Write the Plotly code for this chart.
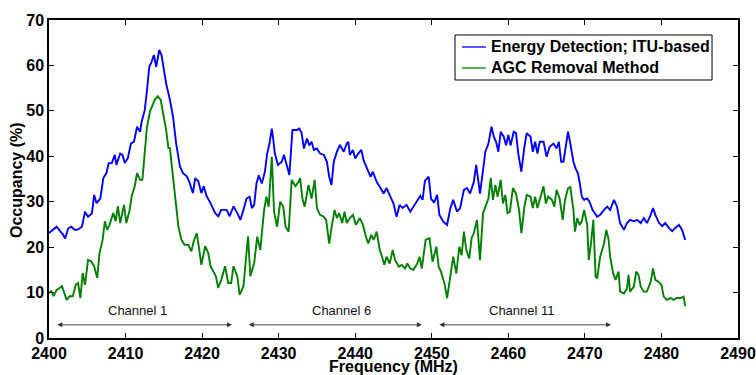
import plotly.graph_objects as go

# Energy detection (ITU-based) occupancy vs frequency
ed_freq = [
    2400.0, 2400.5, 2401.0, 2401.5, 2401.8, 2402.1, 2402.5, 2402.9, 2403.4, 2403.8,
    2404.3, 2404.7, 2405.1, 2405.6, 2405.9, 2406.2, 2406.7, 2407.1, 2407.5, 2407.8,
    2408.2, 2408.6, 2408.8, 2409.3, 2409.6, 2409.9, 2410.3, 2410.7, 2411.1, 2411.5,
    2411.9, 2412.1, 2412.5, 2412.8, 2413.1, 2413.4, 2413.7, 2414.0, 2414.4, 2414.7,
    2415.0, 2415.3, 2415.8, 2416.2, 2416.6, 2417.1, 2417.5, 2418.0, 2418.3, 2418.8,
    2419.1, 2419.5, 2419.9, 2420.2, 2420.6, 2421.1, 2421.7, 2422.1, 2422.5, 2423.2,
    2423.6, 2424.1, 2424.6, 2425.0, 2425.4, 2425.8, 2426.2, 2426.5, 2426.8, 2427.1,
    2427.4, 2427.8, 2428.2, 2428.5, 2428.8, 2429.1, 2429.3, 2429.5, 2429.9, 2430.4,
    2430.7, 2431.0, 2431.4, 2431.8, 2432.4, 2432.7, 2433.0, 2433.3, 2433.7, 2434.0,
    2434.3, 2434.6, 2435.0, 2435.4, 2435.9, 2436.3, 2436.6, 2436.9, 2437.2, 2437.6,
    2438.0, 2438.5, 2438.9, 2439.1, 2439.3, 2439.7, 2440.0, 2440.4, 2440.8, 2441.1,
    2441.5, 2442.0, 2442.3, 2442.8, 2443.3, 2443.7, 2444.1, 2444.6, 2445.0, 2445.4,
    2445.8, 2446.2, 2446.7, 2447.2, 2447.6, 2448.1, 2448.5, 2448.8, 2449.1, 2449.6,
    2449.9, 2450.3, 2450.7, 2451.0, 2451.5, 2452.0, 2452.4, 2452.8, 2453.3, 2453.7,
    2454.2, 2454.6, 2455.0, 2455.5, 2455.8, 2456.3, 2456.7, 2457.0, 2457.4, 2457.8,
    2458.1, 2458.4, 2458.7, 2459.0, 2459.4, 2459.7, 2460.0, 2460.3, 2460.7, 2461.0,
    2461.3, 2461.7, 2462.1, 2462.4, 2462.9, 2463.2, 2463.5, 2463.8, 2464.1, 2464.6,
    2465.0, 2465.4, 2465.9, 2466.3, 2466.6, 2466.9, 2467.2, 2467.6, 2467.8, 2468.1,
    2468.5, 2468.8, 2469.1, 2469.3, 2469.6, 2469.9, 2470.3, 2470.6, 2471.0, 2471.6,
    2472.0, 2472.5, 2472.9, 2473.3, 2473.8, 2474.2, 2474.6, 2475.1, 2475.5, 2475.9,
    2476.4, 2476.8, 2477.3, 2477.7, 2478.1, 2478.5, 2478.9, 2479.2, 2479.7, 2480.1,
    2480.5, 2481.0, 2481.4, 2481.8, 2482.3, 2482.7, 2483.1,
]
ed_occ = [
    23.1, 23.8, 24.5, 23.4, 22.9, 21.9, 24.1, 24.5, 23.8, 23.9,
    24.5, 27.8, 26.7, 27.4, 31.5, 29.7, 30.7, 35.2, 36.3, 38.5,
    38.5, 40.3, 38.1, 40.6, 40.3, 38.5, 39.6, 42.8, 43.2, 46.5,
    45.4, 47.6, 50.1, 54.5, 59.7, 60.8, 62.3, 59.7, 63.4, 62.3,
    59.0, 56.0, 52.4, 48.7, 42.9, 37.8, 36.3, 35.6, 34.5, 31.9,
    35.2, 34.5, 31.9, 33.4, 31.2, 29.7, 27.5, 26.8, 28.2, 28.2,
    26.8, 29.0, 27.5, 26.0, 28.2, 30.7, 31.1, 28.6, 29.3, 34.0,
    35.8, 34.0, 36.6, 40.6, 42.8, 46.1, 43.6, 40.6, 38.1, 38.8,
    40.3, 38.4, 35.9, 45.8, 45.8, 46.1, 45.1, 41.7, 43.9, 42.4,
    43.2, 41.4, 41.7, 40.6, 40.3, 38.8, 35.5, 33.7, 38.8, 41.0,
    42.5, 41.0, 42.8, 43.2, 40.3, 41.4, 39.5, 40.6, 41.4, 39.1,
    37.3, 35.5, 36.6, 34.4, 33.0, 31.8, 33.0, 31.1, 29.6, 26.7,
    29.3, 28.6, 29.3, 27.8, 28.9, 30.0, 31.3, 30.4, 34.6, 35.5,
    30.7, 29.8, 31.5, 27.1, 25.6, 24.9, 28.4, 30.4, 27.8, 28.6,
    32.6, 33.0, 31.8, 34.4, 38.1, 31.8, 37.7, 41.0, 42.8, 46.5,
    44.3, 43.2, 41.0, 45.4, 44.3, 42.4, 44.7, 42.4, 45.4, 45.1,
    40.6, 36.6, 42.1, 45.1, 44.3, 41.0, 43.2, 40.6, 43.2, 43.2,
    39.9, 42.1, 42.8, 41.7, 43.2, 38.8, 38.8, 42.8, 45.4, 42.8,
    38.8, 37.3, 36.2, 34.4, 31.1, 30.4, 30.7, 30.0, 28.2, 26.7,
    27.1, 28.2, 28.9, 28.2, 30.4, 28.9, 25.3, 23.8, 25.3, 26.0,
    25.7, 26.0, 25.3, 26.4, 25.3, 26.7, 28.6, 27.1, 25.3, 24.6,
    25.3, 24.2, 23.5, 24.2, 24.9, 23.8, 21.6,
]

# AGC removal method occupancy vs frequency
agc_freq = [
    2400.0, 2400.3, 2400.6, 2401.0, 2401.4, 2401.7, 2402.0, 2402.3, 2402.7, 2403.1,
    2403.5, 2403.8, 2404.1, 2404.4, 2404.7, 2405.1, 2405.5, 2405.9, 2406.3, 2406.6,
    2407.0, 2407.3, 2407.6, 2407.9, 2408.4, 2408.7, 2409.0, 2409.3, 2409.8, 2410.1,
    2410.5, 2410.8, 2411.2, 2411.5, 2411.9, 2412.2, 2412.5, 2412.8, 2413.2, 2413.5,
    2413.8, 2414.2, 2414.6, 2414.9, 2415.3, 2415.6, 2415.8, 2416.0, 2416.3, 2416.6,
    2416.9, 2417.3, 2417.7, 2418.2, 2418.6, 2418.9, 2419.3, 2419.6, 2419.9, 2420.4,
    2420.8, 2421.1, 2421.4, 2421.8, 2422.1, 2422.5, 2423.0, 2423.4, 2423.8, 2424.1,
    2424.6, 2424.9, 2425.4, 2425.7, 2426.0, 2426.3, 2426.8, 2427.2, 2427.6, 2428.1,
    2428.4, 2428.7, 2429.1, 2429.4, 2429.8, 2430.2, 2430.6, 2430.9, 2431.3, 2431.7,
    2432.2, 2432.6, 2432.8, 2433.1, 2433.4, 2433.9, 2434.3, 2434.7, 2435.0, 2435.4,
    2435.9, 2436.2, 2436.6, 2436.9, 2437.3, 2437.6, 2437.9, 2438.3, 2438.6, 2438.9,
    2439.3, 2439.7, 2440.1, 2440.6, 2441.0, 2441.4, 2441.7, 2442.1, 2442.4, 2442.8,
    2443.2, 2443.5, 2443.8, 2444.1, 2444.5, 2444.9, 2445.2, 2445.7, 2446.1, 2446.5,
    2446.8, 2447.2, 2447.6, 2448.1, 2448.4, 2448.7, 2449.2, 2449.7, 2450.1, 2450.6,
    2450.9, 2451.2, 2451.7, 2452.0, 2452.4, 2452.8, 2453.2, 2453.6, 2453.9, 2454.2,
    2454.5, 2454.9, 2455.2, 2455.5, 2455.9, 2456.3, 2456.7, 2457.0, 2457.4, 2457.7,
    2458.0, 2458.3, 2458.6, 2459.0, 2459.3, 2459.6, 2459.9, 2460.2, 2460.6, 2461.0,
    2461.4, 2461.7, 2462.1, 2462.4, 2462.9, 2463.2, 2463.5, 2463.8, 2464.1, 2464.6,
    2464.9, 2465.2, 2465.7, 2466.0, 2466.3, 2466.7, 2467.1, 2467.4, 2467.8, 2468.1,
    2468.5, 2468.7, 2469.0, 2469.3, 2469.6, 2469.9, 2470.3, 2470.5, 2470.8, 2471.1,
    2471.4, 2471.6, 2472.0, 2472.5, 2472.8, 2473.1, 2473.3, 2473.7, 2474.0, 2474.4,
    2474.6, 2475.1, 2475.5, 2475.7, 2475.9, 2476.4, 2476.7, 2477.0, 2477.3, 2477.7,
    2478.1, 2478.6, 2478.9, 2479.2, 2479.6, 2480.0, 2480.3, 2480.7, 2481.2, 2481.6,
    2482.0, 2482.5, 2482.9, 2483.1,
]
agc_occ = [
    9.9, 10.3, 9.2, 10.6, 11.0, 11.4, 9.9, 8.4, 9.2, 9.2,
    11.7, 12.1, 8.8, 14.3, 11.7, 17.2, 16.9, 15.8, 13.2, 18.7,
    21.6, 25.7, 23.8, 24.9, 27.5, 25.7, 29.0, 25.3, 29.3, 25.3,
    27.9, 31.2, 33.4, 36.3, 34.8, 34.8, 40.7, 46.5, 49.9, 51.3,
    52.4, 53.2, 52.4, 49.5, 45.8, 41.8, 41.8, 38.5, 33.4, 29.0,
    24.6, 21.6, 20.5, 20.5, 19.1, 21.3, 23.1, 19.8, 16.1, 20.2,
    18.7, 15.8, 14.7, 13.6, 11.0, 12.8, 15.8, 12.1, 12.1, 15.8,
    13.6, 9.5, 11.4, 17.6, 22.4, 13.6, 16.5, 22.3, 19.4, 28.2,
    31.1, 28.9, 39.9, 27.8, 24.5, 30.0, 28.9, 24.5, 23.4, 34.8,
    33.4, 34.4, 35.2, 30.7, 28.9, 33.7, 30.7, 34.8, 28.6, 27.1,
    26.7, 26.0, 20.8, 24.2, 28.2, 26.4, 27.5, 25.3, 27.8, 25.3,
    26.4, 27.1, 24.9, 26.4, 24.9, 22.3, 20.8, 22.7, 21.6, 23.4,
    19.4, 17.9, 16.1, 17.9, 16.4, 19.4, 17.2, 15.7, 16.1, 15.3,
    16.4, 15.3, 15.0, 16.4, 17.9, 15.3, 21.6, 22.0, 16.8, 20.1,
    15.7, 14.6, 11.7, 8.8, 13.5, 17.9, 14.2, 20.1, 18.2, 23.4,
    19.4, 17.5, 22.0, 23.1, 26.0, 17.2, 27.5, 28.9, 30.7, 35.2,
    30.4, 33.7, 31.1, 34.8, 29.6, 31.5, 27.5, 27.8, 33.0, 31.8,
    28.2, 23.1, 28.9, 31.5, 31.1, 28.6, 31.1, 28.6, 30.4, 33.4,
    29.6, 31.1, 30.4, 28.9, 32.6, 30.7, 26.0, 30.4, 33.0, 33.2,
    28.2, 23.4, 26.4, 24.9, 25.7, 28.2, 24.9, 17.2, 20.8, 26.0,
    13.5, 13.1, 17.9, 20.8, 23.8, 21.6, 17.9, 14.2, 12.8, 14.6,
    10.2, 9.8, 10.9, 13.9, 10.2, 11.3, 14.6, 13.9, 11.3, 10.2,
    10.2, 12.4, 15.3, 12.8, 12.4, 11.7, 9.1, 8.4, 8.8, 8.4,
    8.8, 8.8, 9.1, 7.0,
]

series_names = ["Energy Detection; ITU-based", "AGC Removal Method"]
series_colors = ["#0000FF", "#008000"]

# Wi-Fi channel spans (MHz) and their labels
channel_names = ["Channel 1", "Channel 6", "Channel 11"]
channel_start = [2400.9, 2425.9, 2450.8]
channel_end = [2423.9, 2448.7, 2473.4]
channel_label_x = [2411.6, 2438.2, 2461.8]

x_ticks = [2400, 2410, 2420, 2430, 2440, 2450, 2460, 2470, 2480, 2490]
y_ticks = [0, 10, 20, 30, 40, 50, 60, 70]

FONT = "Liberation Sans, Arial, sans-serif"
BOLD16 = dict(family=FONT, size=16, color="black", weight="bold")

fig = go.Figure()
fig.add_trace(go.Scatter(
    x=ed_freq, y=ed_occ, mode="lines", name=series_names[0],
    line=dict(color=series_colors[0], width=1.9),
))
fig.add_trace(go.Scatter(
    x=agc_freq, y=agc_occ, mode="lines", name=series_names[1],
    line=dict(color=series_colors[1], width=1.9),
))

# Double-headed arrows marking each channel's bandwidth
arrow_y = 2.9
label_y = 6.0
for name, x0, x1, xl in zip(channel_names, channel_start, channel_end, channel_label_x):
    fig.add_annotation(
        x=x1, y=arrow_y, ax=x0, ay=arrow_y, xref="x", yref="y", axref="x", ayref="y",
        text="", showarrow=True, arrowside="end+start", arrowhead=2,
        arrowsize=1.1, arrowwidth=0.9, arrowcolor="#333333", standoff=0, startstandoff=0,
    )
    fig.add_annotation(
        x=xl, y=label_y, xref="x", yref="y", text=name, showarrow=False,
        font=dict(family=FONT, size=13, color="#111111"),
    )

# Boxed legend in the upper right of the axes
legend_box = dict(x0=0.5893, x1=0.9623, y0=0.8113, y1=0.9528)
legend_rows_y = [0.9151, 0.8491]
legend_line_x = (0.5994, 0.6343)
legend_text_x = 0.6386
fig.add_shape(type="rect", xref="paper", yref="paper", **legend_box,
              line=dict(color="black", width=1), fillcolor="white", layer="above")
for name, color, ry in zip(series_names, series_colors, legend_rows_y):
    fig.add_shape(type="line", xref="paper", yref="paper",
                  x0=legend_line_x[0], x1=legend_line_x[1], y0=ry, y1=ry,
                  line=dict(color=color, width=1.3), layer="above")
    fig.add_annotation(
        x=legend_text_x, y=ry, xref="paper", yref="paper", text=name,
        showarrow=False, xanchor="left", yanchor="middle",
        font=dict(family=FONT, size=16, color="black", weight="bold"),
    )

# Axis titles (the x title sits at the very bottom edge of the page)
fig.add_annotation(
    x=0.5, y=-0.058, xref="paper", yref="paper", text="Frequency (MHz)",
    showarrow=False, xanchor="center", yanchor="top", font=BOLD16,
)
fig.add_annotation(
    x=-0.0464, y=0.497, xref="paper", yref="paper", text="Occupancy (%)",
    showarrow=False, xanchor="center", yanchor="middle", textangle=-90, font=BOLD16,
)

axis_common = dict(
    showline=True, linecolor="black", linewidth=1.5, mirror="ticks",
    ticks="inside", ticklen=5, tickwidth=1.2, tickcolor="black",
    showgrid=False, zeroline=False,
    tickfont=BOLD16,
)

fig.update_xaxes(range=[2400, 2490], tickvals=x_ticks,
                 ticktext=[str(v) for v in x_ticks], **axis_common)
fig.update_yaxes(range=[0, 70], tickvals=y_ticks,
                 ticktext=[str(v) for v in y_ticks], **axis_common)

fig.update_layout(
    width=756, height=375,
    margin=dict(l=49, r=18, t=20, b=37, autoexpand=False),
    paper_bgcolor="white", plot_bgcolor="white",
    showlegend=False,
)

fig.write_html("out.html")
